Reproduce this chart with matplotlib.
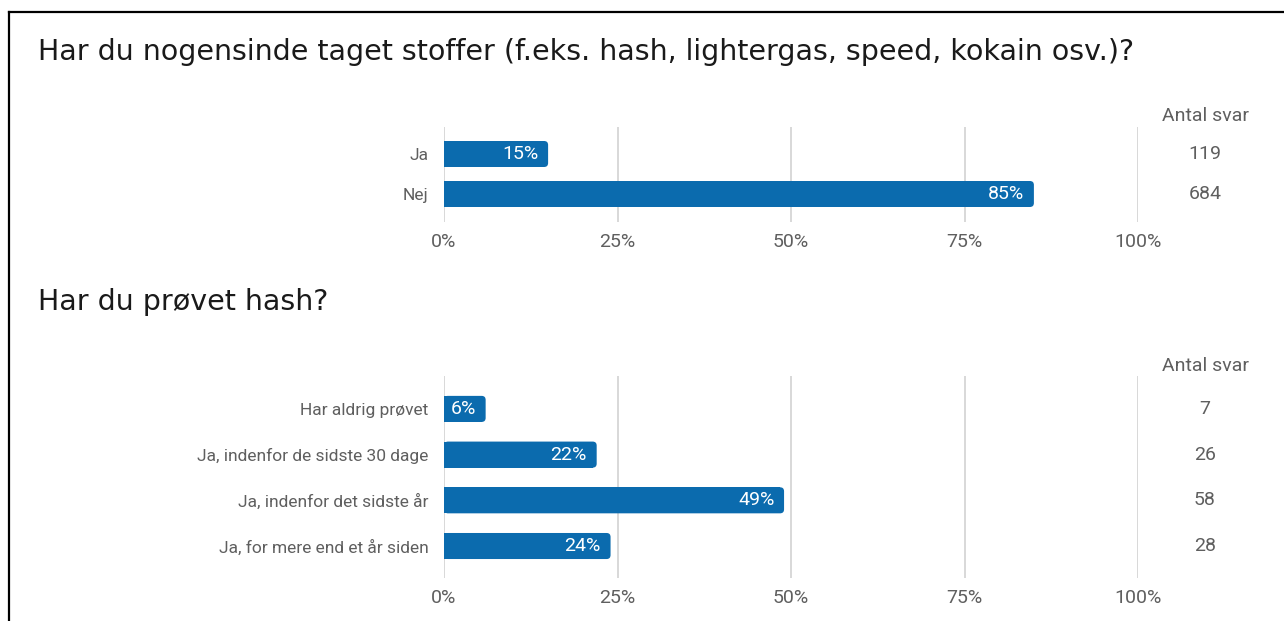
import matplotlib.pyplot as plt
from matplotlib.lines import Line2D
from matplotlib.patches import FancyBboxPatch

# data
q1_title = "Har du nogensinde taget stoffer (f.eks. hash, lightergas, speed, kokain osv.)?"
q1_labels = ["Ja", "Nej"]
q1_pct = [15, 85]
q1_counts = [119, 684]

q2_title = "Har du prøvet hash?"
q2_labels = ["Har aldrig prøvet", "Ja, indenfor de sidste 30 dage",
             "Ja, indenfor det sidste år", "Ja, for mere end et år siden"]
q2_pct = [6, 22, 49, 24]
q2_counts = [7, 26, 58, 28]

ticks = [0, 25, 50, 75, 100]
tick_labels = ["0%", "25%", "50%", "75%", "100%"]

BLUE = '#0b6bae'
GRAY = '#5f5f5f'
GRID = '#d6d6d6'

W, H = 1284, 621
fig = plt.figure(figsize=(W / 100, H / 100), dpi=100)
fig.patch.set_facecolor('white')


def px_box(x0, x1, ytop, ybot):
    return [x0 / W, 1 - ybot / H, (x1 - x0) / W, (ybot - ytop) / H]


def draw_panel(rect, labels, pct, counts, ylim, bar_h, count_x, header_y):
    ax = fig.add_axes(rect)
    ax.set_xlim(0, 100)
    ax.set_ylim(*ylim)
    y = list(range(len(labels)))

    # rounded right end: radius ~4 px
    bb = ax.get_position()
    wpx = bb.width * W
    hpx = bb.height * H
    xu = 100 / wpx                      # x units per px
    yu = abs(ylim[0] - ylim[1]) / hpx   # y units per px
    r = 4 * xu
    bars = ax.barh(y, pct, height=bar_h, color=BLUE, zorder=3)
    for b in bars:
        x0, y0, w, h = b.get_x(), b.get_y(), b.get_width(), b.get_height()
        b.set_width(max(w - r, 0))
        ax.add_patch(FancyBboxPatch((x0, y0), w, h,
                                    boxstyle=f"round,pad=0,rounding_size={r}",
                                    mutation_aspect=yu / xu,
                                    facecolor=BLUE, edgecolor='none', zorder=3))

    for yi, p in zip(y, pct):
        ax.annotate(f"{p}%", xy=(p, yi), xytext=(-7, 0), textcoords='offset points',
                    ha='right', va='center', color='white', fontsize=14,
                    family='Roboto', zorder=4)
    ax.set_xticks(ticks)
    ax.set_xticklabels(tick_labels)
    ax.set_yticks(y)
    ax.set_yticklabels(labels)
    ax.tick_params(length=0, labelcolor=GRAY)
    ax.tick_params(axis='x', pad=8, labelsize=14)
    ax.tick_params(axis='y', pad=11, labelsize=12.5)
    for lab in ax.get_xticklabels() + ax.get_yticklabels():
        lab.set_family('Roboto')
    for s in ax.spines.values():
        s.set_visible(False)
    ax.grid(axis='x', color=GRID, linewidth=1.3, zorder=0)
    ax.set_axisbelow(True)
    # count column
    ax.text(count_x, header_y, "Antal svar", transform=ax.get_yaxis_transform(),
            ha='center', va='center', fontsize=14, color=GRAY, family='Roboto')
    for yi, c in zip(y, counts):
        ax.text(count_x, yi, str(c), transform=ax.get_yaxis_transform(),
                ha='center', va='center', fontsize=14, color=GRAY, family='Roboto')
    return ax


cx = (1205 - 444) / (1138 - 444)

# panel 1
draw_panel(px_box(444, 1138, 127, 222), q1_labels, q1_pct, q1_counts,
           (1.7, -0.675), 0.65, cx, -0.95)
# panel 2
draw_panel(px_box(444, 1138, 376, 578), q2_labels, q2_pct, q2_counts,
           (3.7, -0.72), 0.57, cx, -0.93)

fig.text(38 / W, 1 - 52 / H, q1_title, ha='left', va='center', fontsize=20.5,
         color='#1a1a1a', family='DejaVu Sans')
fig.text(38 / W, 1 - 302 / H, q2_title, ha='left', va='center', fontsize=20.5,
         color='#1a1a1a', family='DejaVu Sans')

# frame lines (top and left)
fig.add_artist(Line2D([9 / W, 1], [1 - 12 / H, 1 - 12 / H], color='black',
                      linewidth=1.6, transform=fig.transFigure))
fig.add_artist(Line2D([9 / W, 9 / W], [0, 1 - 12 / H], color='black',
                      linewidth=1.6, transform=fig.transFigure))

fig.savefig('out.png', dpi=100)
